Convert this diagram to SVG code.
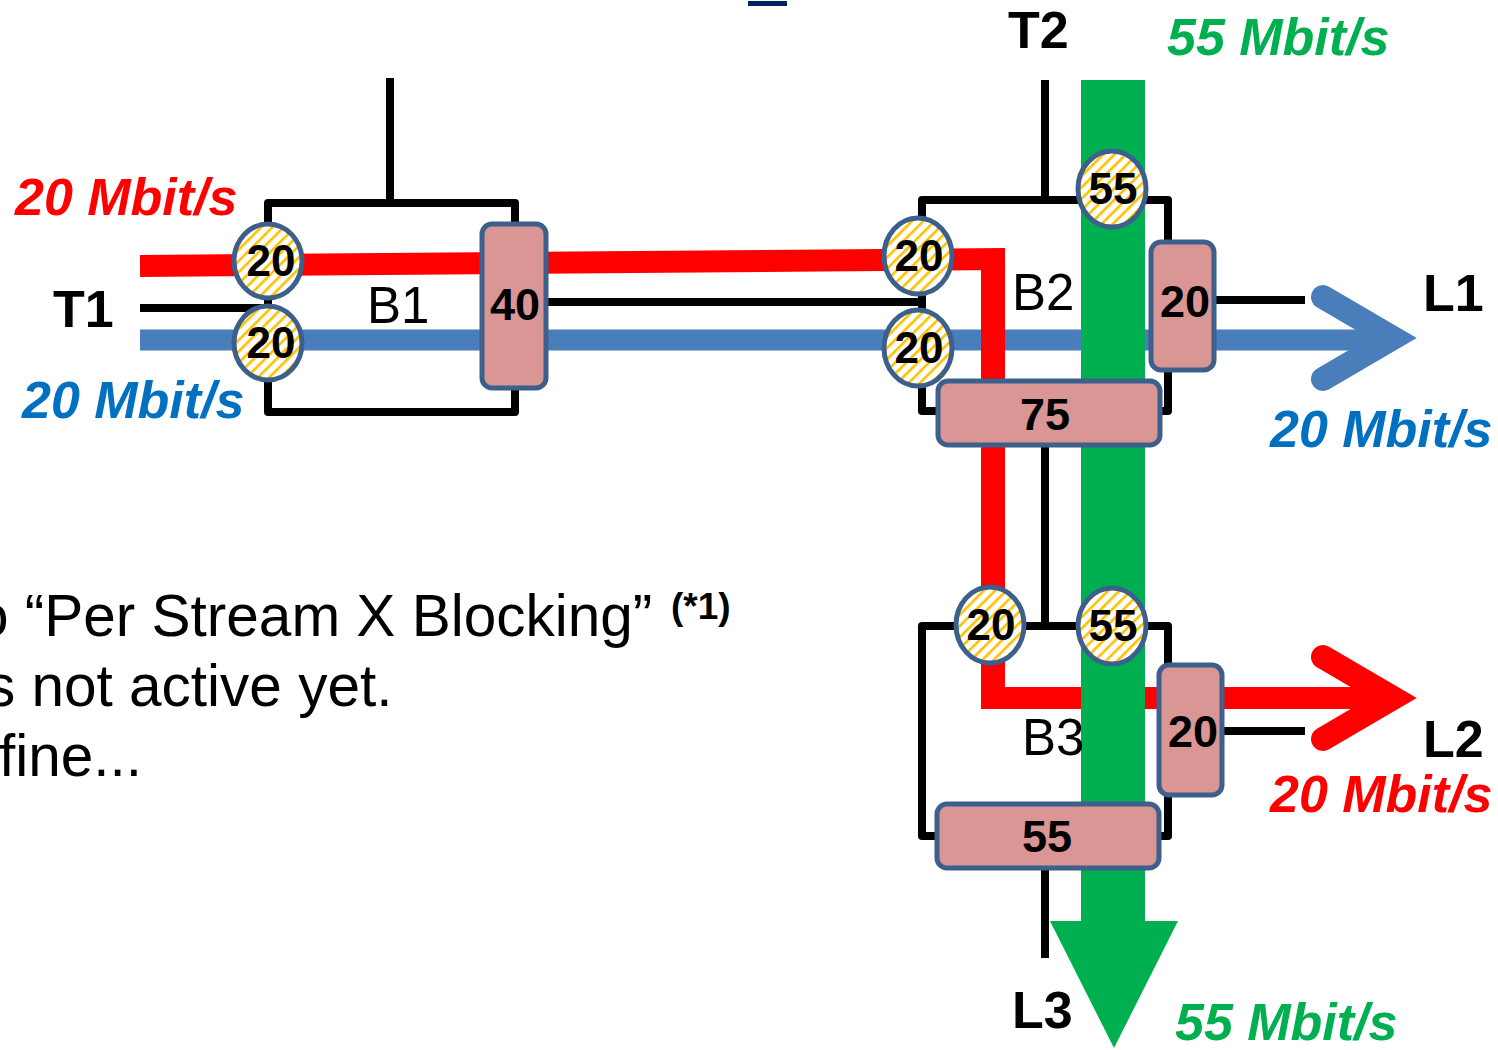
<svg xmlns="http://www.w3.org/2000/svg" width="1498" height="1050" viewBox="0 0 1498 1050">
<style>
.blk{stroke:#000;stroke-width:8;fill:none;stroke-linejoin:round}
.circ{fill:url(#hatch);stroke:#3C5F8C;stroke-width:5}
.shp{fill:#D99694;stroke:#3C5F8C;stroke-width:5}
.num{font-family:"Liberation Sans",Arial,sans-serif;font-weight:bold;font-size:44px;fill:#000;text-anchor:middle}
.bnum{font-family:"Liberation Sans",Arial,sans-serif;font-weight:bold;font-size:45px;fill:#000;text-anchor:middle}
.lbl{font-family:"Liberation Sans",Arial,sans-serif;font-weight:bold;font-size:52px;fill:#000}
.bl{font-family:"Liberation Sans",Arial,sans-serif;font-size:51px;fill:#000}
.rate{font-family:"Liberation Sans",Arial,sans-serif;font-weight:bold;font-style:italic;font-size:52px}
.note{font-family:"Liberation Sans",Arial,sans-serif;font-size:58.5px;fill:#000}
</style>
<defs>
<pattern id="hatch" patternUnits="userSpaceOnUse" width="8" height="8" patternTransform="rotate(45)">
<rect width="8" height="8" fill="#fff"/>
<rect width="2.6" height="8" fill="#FFC000"/>
</pattern>
</defs>
<rect x="748" y="1" width="39" height="5" fill="#002060"/>
<g id="connectors">
<line class="blk" x1="390" y1="78" x2="390" y2="203"/>
<line class="blk" x1="1045" y1="80" x2="1045" y2="200"/>
<line class="blk" x1="140" y1="308" x2="268" y2="308"/>
<line class="blk" x1="546" y1="302" x2="922" y2="302"/>
<line class="blk" x1="1214" y1="300" x2="1305" y2="300"/>
<line class="blk" x1="1045" y1="445" x2="1045" y2="626"/>
<line class="blk" x1="1222" y1="731" x2="1305" y2="731"/>
<line class="blk" x1="1045" y1="868" x2="1045" y2="958"/>
<g id="flow-blue">
<line x1="140" y1="340" x2="1393" y2="340" stroke="#4A7EBB" stroke-width="21"/>
<polyline points="1323,297 1393,338 1323,379" fill="none" stroke="#4A7EBB" stroke-width="24" stroke-linecap="round" stroke-linejoin="miter" stroke-miterlimit="6"/>
</g>
<g id="flow-red">
<line x1="140" y1="266" x2="1005" y2="259" stroke="#FF0000" stroke-width="22"/>
<line x1="993" y1="249" x2="993" y2="709" stroke="#FF0000" stroke-width="24"/>
<line x1="981" y1="698" x2="1393" y2="698" stroke="#FF0000" stroke-width="22"/>
<polyline points="1323,657 1393,698 1323,739" fill="none" stroke="#FF0000" stroke-width="24" stroke-linecap="round" stroke-linejoin="miter" stroke-miterlimit="6"/>
</g>
<g id="flow-green">
<rect x="1081" y="80" width="64" height="842" fill="#00B050"/>
<polygon points="1050,921 1178,921 1114,1048" fill="#00B050"/>
</g>
</g>
<g id="B1">
<rect class="blk" x="268" y="203" width="247" height="209"/>
<ellipse class="circ" cx="268" cy="261" rx="34" ry="37"/>
<text class="num" x="271" y="276">20</text>
<ellipse class="circ" cx="268" cy="343" rx="34" ry="37"/>
<text class="num" x="271" y="358">20</text>
<rect class="shp" x="482" y="224" width="64" height="164" rx="10"/>
<text class="bnum" x="515" y="320">40</text>
<text class="bl" x="367" y="323">B1</text>
</g>
<g id="B2">
<rect class="blk" x="922" y="200" width="246" height="211"/>
<ellipse class="circ" cx="918" cy="256" rx="34" ry="38"/>
<text class="num" x="919" y="271">20</text>
<ellipse class="circ" cx="918" cy="348" rx="34" ry="38"/>
<text class="num" x="919" y="363">20</text>
<ellipse class="circ" cx="1112" cy="189" rx="34" ry="38"/>
<text class="num" x="1113" y="204">55</text>
<rect class="shp" x="1151" y="242" width="63" height="128" rx="10"/>
<text class="bnum" x="1185" y="317">20</text>
<rect class="shp" x="938" y="381" width="222" height="64" rx="10"/>
<text class="bnum" x="1045" y="430">75</text>
<text class="bl" x="1012" y="310">B2</text>
</g>
<g id="B3">
<rect class="blk" x="922" y="626" width="246" height="210"/>
<ellipse class="circ" cx="990" cy="625" rx="34" ry="38"/>
<text class="num" x="991" y="640">20</text>
<ellipse class="circ" cx="1112" cy="626" rx="34" ry="38"/>
<text class="num" x="1113" y="641">55</text>
<rect class="shp" x="1159" y="665" width="63" height="130" rx="10"/>
<text class="bnum" x="1193" y="747">20</text>
<rect class="shp" x="937" y="804" width="222" height="64" rx="10"/>
<text class="bnum" x="1047" y="852">55</text>
<text class="bl" x="1022" y="755">B3</text>
</g>
<g id="T1"><text class="lbl" x="53" y="327">T1</text></g>
<g id="T2"><text class="lbl" x="1008" y="48">T2</text></g>
<g id="L1"><text class="lbl" x="1423" y="311">L1</text></g>
<g id="L2"><text class="lbl" x="1423" y="757">L2</text></g>
<g id="L3"><text class="lbl" x="1012" y="1028">L3</text></g>
<g id="rates">
<text class="rate" x="15" y="215" fill="#FF0000">20 Mbit/s</text>
<text class="rate" x="22" y="418" fill="#0070C0">20 Mbit/s</text>
<text class="rate" x="1167" y="55" fill="#00B050">55 Mbit/s</text>
<text class="rate" x="1270" y="447" fill="#0070C0">20 Mbit/s</text>
<text class="rate" x="1270" y="812" fill="#FF0000">20 Mbit/s</text>
<text class="rate" x="1175" y="1040" fill="#00B050">55 Mbit/s</text>
</g>
<g id="note">
<text class="note" x="-24" y="636">o “Per Stream X Blocking”</text>
<text x="671" y="619" font-family="Liberation Sans, Arial, sans-serif" font-weight="bold" font-size="37" fill="#000">(*1)</text>
<text class="note" x="-14" y="706">s not active yet.</text>
<text class="note" x="-1" y="776">fine...</text>
</g>
</svg>
